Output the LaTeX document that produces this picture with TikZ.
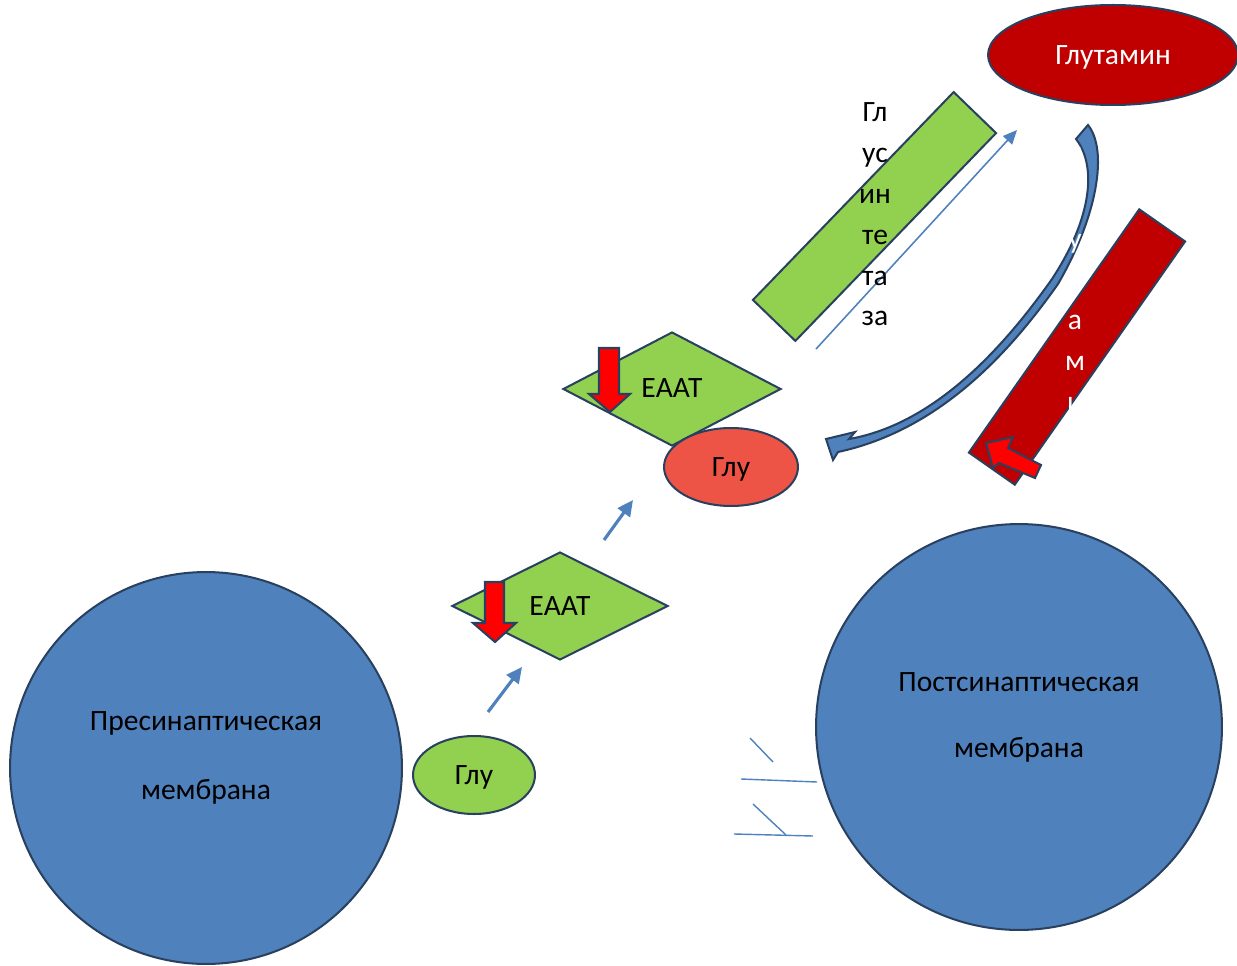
\documentclass[tikz,border=0pt]{standalone}
\usepackage{fontspec}
\setmainfont{Carlito}
\usetikzlibrary{shapes.geometric,arrows.meta}
\definecolor{memblue}{HTML}{4F81BD}
\definecolor{edge}{HTML}{29405F}
\definecolor{leaf}{HTML}{92D050}
\definecolor{glured}{HTML}{EE5446}
\definecolor{darkred}{HTML}{C00000}
\definecolor{pure}{HTML}{FF0000}
\begin{document}
\begin{tikzpicture}[x=0.02cm,y=-0.02cm,
  lbl/.style={font=\fontsize{16.8}{20}\selectfont, inner sep=0pt, yshift=-1.4pt},
  column/.style={font=\fontsize{16.8}{23.2}\selectfont, inner sep=0pt, align=center},
  outl/.style={draw=edge, line width=1.15pt},
  membrane/.style={outl, circle, fill=memblue, inner sep=0pt},
  molecule/.style={outl, ellipse, inner sep=0pt, minimum height=1.56cm},
  transporter/.style={outl, diamond, fill=leaf, inner sep=0pt},
  enzyme/.style={outl, rectangle, inner sep=0pt},
  flow/.style={draw=memblue, line width=1.8pt, -{Triangle[length=9pt,width=8.5pt]}},
  fine flow/.style={draw=memblue, line width=0.9pt, -{Triangle[length=8pt,width=7pt]}},
  block arrow/.style={outl, fill=pure},
  tick/.style={draw=memblue, line width=0.8pt}]
\useasboundingbox (0,0) rectangle (1237,966);

% presynaptic membrane
\node[membrane, minimum size=7.84cm] (pre) at (206,768) {};
\node[lbl] (pretop) at (206,721) {Пресинаптическая};
\node[lbl] (prebot) at (206,789) {мембрана};

% glutamate released from the presynaptic side
\node[molecule, fill=leaf, minimum width=2.44cm] (glu1) at (474,775) {};
\node[lbl] at (glu1.center) {Глу};

% lower transporter
\node[transporter, minimum width=4.32cm, minimum height=2.16cm] (eaat1) at (560,606) {};
\node[lbl] at (560,604) {ЕААТ};
\draw[block arrow] (485,582) -- (504,582) -- (504,623) -- (516,623) -- (495,642) -- (473,623) -- (485,623) -- cycle;

% upper transporter
\node[transporter, minimum width=4.36cm, minimum height=2.28cm] (eaat2) at (672,389) {};
\node[lbl] at (672,386) {ЕААТ};
\draw[block arrow] (599,348) -- (619,348) -- (619,394) -- (630,394) -- (610,412) -- (589,394) -- (599,394) -- cycle;

% glutamate in the cleft
\node[molecule, fill=glured, minimum width=2.68cm] (glu2) at (731,467) {};
\node[lbl] at (glu2.center) {Глу};

% small uptake arrows
\coordinate (f1s) at (488,712);
\coordinate (f1e) at (522,667);
\draw[flow] (f1s) -- (f1e);
\coordinate (f2s) at (604,540);
\coordinate (f2e) at (633,500);
\draw[flow] (f2s) -- (f2e);

% glutamine synthetase
\node[enzyme, fill=leaf, minimum width=5.78cm, minimum height=1.18cm, rotate=46] (synth) at (874.5,216.5) {};
\coordinate (f3s) at (816,349);
\coordinate (f3e) at (1017,130);
\draw[fine flow] (f3s) -- (f3e);
\node[column] (synthtxt) at (875,214.5) {Гл\\ус\\ин\\те\\та\\за};

% glutamine
\node[molecule, fill=darkred, minimum width=5.0cm, minimum height=2.0cm] (gln) at (1113,55) {};
\node[lbl, text=white] at (gln.center) {Глутамин};

% curved return arrow from glutamine to glutamate
\draw[outl, fill=memblue]
  (1076,139) -- (1088,125)
  .. controls (1108,150) and (1098,215) .. (1058,284)
  .. controls (1010,352) and (940,430) .. (838,452)
  -- (833,460) -- (826,439) -- (855,432) -- (849,439)
  .. controls (935,424) and (1004,347) .. (1052,279)
  .. controls (1092,218) and (1097,166) .. (1076,139) -- cycle;

% glutaminase
\node[enzyme, fill=darkred, minimum width=5.94cm, minimum height=1.12cm, rotate=55] (glnase) at (1077,347) {};
\draw[block arrow] (986,443) -- (1013,437) -- (1008,448) -- (1041,465) -- (1035,478) -- (999,463) -- (993,468) -- cycle;
\node[column, text=white] (glnasetxt) at (1075,361) {Г\\л\\у\\т\\а\\м\\и\\н\\а\\з\\а};

% postsynaptic membrane
\node[membrane, minimum size=8.12cm] (post) at (1019,727) {};
\node[lbl] (posttop) at (1019,680) {Постсинаптическая};
\node[lbl] (postbot) at (1019,747) {мембрана};

% receptor strokes by the postsynaptic membrane
\coordinate (t1a) at (750,738);
\coordinate (t1b) at (773,762);
\coordinate (t2a) at (741,779);
\coordinate (t2b) at (817,782);
\coordinate (t3a) at (753,804);
\coordinate (t3b) at (786,835);
\coordinate (t4a) at (734,834);
\coordinate (t4b) at (813,836);
\draw[tick] (t1a) -- (t1b);
\draw[tick] (t2a) -- (t2b);
\draw[tick] (t3a) -- (t3b);
\draw[tick] (t4a) -- (t4b);
\end{tikzpicture}
\end{document}
